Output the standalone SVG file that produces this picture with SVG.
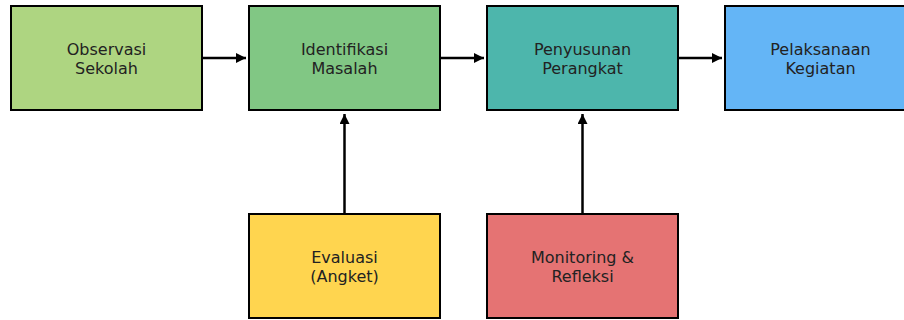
<svg xmlns="http://www.w3.org/2000/svg" width="904" height="320" viewBox="0 0 904 320">
<style>
.box{stroke:#000;stroke-width:2}
.t{font-family:"DejaVu Sans",sans-serif;font-size:16px;fill:#222;text-anchor:middle}
.c{stroke:#000;stroke-width:2.5;fill:none}
</style>
<defs>
<marker id="ah" viewBox="0 0 10 10" refX="10" refY="5" markerWidth="4" markerHeight="4" orient="auto" markerUnits="strokeWidth">
<path d="M0,0 L10,5 L0,10 z" fill="#000"/>
</marker>
</defs>
<rect width="904" height="320" fill="#fff"/>
<g id="n1"><rect class="box" x="11" y="6" width="191" height="104" fill="#aed581"/><text class="t" x="106.5" y="55">Observasi</text><text class="t" x="106.5" y="74">Sekolah</text></g>
<g id="n2"><rect class="box" x="249" y="6" width="191" height="104" fill="#81c784"/><text class="t" x="344.5" y="55">Identifikasi</text><text class="t" x="344.5" y="74">Masalah</text></g>
<g id="n3"><rect class="box" x="487" y="6" width="191" height="104" fill="#4db6ac"/><text class="t" x="582.5" y="55">Penyusunan</text><text class="t" x="582.5" y="74">Perangkat</text></g>
<g id="n4"><rect class="box" x="725" y="6" width="191" height="104" fill="#64b5f6"/><text class="t" x="820.5" y="55">Pelaksanaan</text><text class="t" x="820.5" y="74">Kegiatan</text></g>
<g id="n5"><rect class="box" x="249" y="214" width="191" height="104" fill="#ffd54f"/><text class="t" x="344.5" y="263">Evaluasi</text><text class="t" x="344.5" y="282">(Angket)</text></g>
<g id="n6"><rect class="box" x="487" y="214" width="191" height="104" fill="#e57373"/><text class="t" x="582.5" y="263">Monitoring &amp;</text><text class="t" x="582.5" y="282">Refleksi</text></g>
<g id="connectors">
<line class="c" x1="203" y1="58" x2="246" y2="58" marker-end="url(#ah)"/>
<line class="c" x1="441" y1="58" x2="484" y2="58" marker-end="url(#ah)"/>
<line class="c" x1="679" y1="58" x2="722" y2="58" marker-end="url(#ah)"/>
<line class="c" x1="344.5" y1="213" x2="344.5" y2="114" marker-end="url(#ah)"/>
<line class="c" x1="582.5" y1="213" x2="582.5" y2="114" marker-end="url(#ah)"/>
</g>
</svg>
